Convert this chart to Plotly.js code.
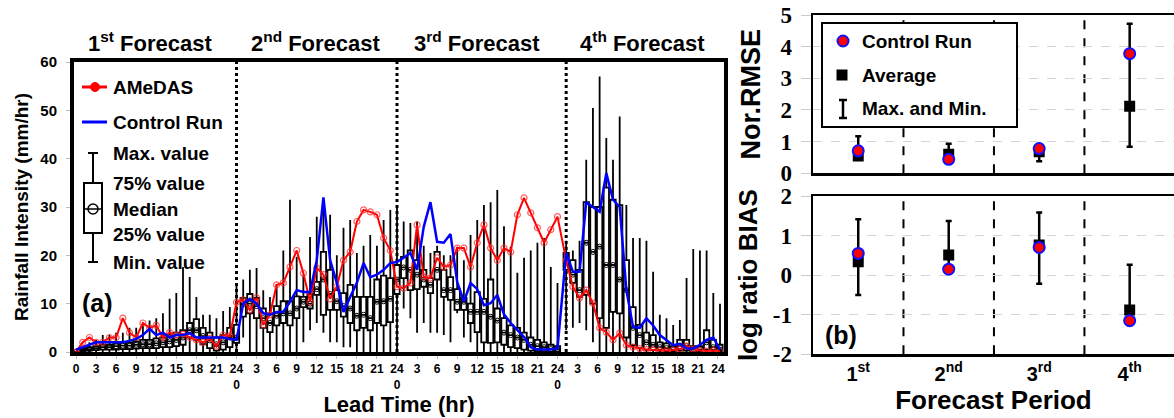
<!DOCTYPE html>
<html><head><meta charset="utf-8">
<script src="https://cdn.plot.ly/plotly-3.0.1.min.js"></script>
<style>html,body{margin:0;padding:0;background:#fff}#chart{width:1174px;height:418px}</style>
</head><body><div id="chart"></div>
<script>
// ---------------- DATA ----------------
// x-axis slot where each forecast period's values start, and number of hourly values per period
const periodFirstSlot = [0, 25, 49, 73.3];
const periodCount = [25, 24, 24, 24];
const periodBoundary = [24, 48, 73.3];           // dotted separators between periods
const periodTitles = ["1<sup>st</sup> Forecast", "2<sup>nd</sup> Forecast", "3<sup>rd</sup> Forecast", "4<sup>th</sup> Forecast"];

const tickHours = [0,3,6,9,12,15,18,21,24,27,30,33,36,39,42,45,48,51,54,57,60,63,66,69,72,75,78,81,84,87,90,93,96];
const tickLabels = ["0","3","6","9","12","15","18","21","24<br>0","3","6","9","12","15","18","21","24<br>0",
                    "3","6","9","12","15","18","21","24<br>0","3","6","9","12","15","18","21","24"];
const rmseTicks = [0, 1, 2, 3, 4, 5];
const biasTicks = [-2, -1, 0, 1, 2];

// AMeDAS observed rainfall (mm/hr)
const amedas = [
  0,2,3,2,2,3,3,7,4,3,6,5,5.5,3,4,3.5,3.7,3,2.5,2,2.8,1.2,3.5,3.3,10.3,
  10.8,8.7,11.2,5.6,7.7,13.9,14.3,17.6,21,16.3,10.4,17.4,16,11,13.5,19,20.7,27,29.4,29,28.4,23.6,21,13.5,
  13.2,14.3,26.3,15.5,15.3,19.5,17.6,18,21.5,21.5,17.6,22.6,26.3,21.5,19,21.5,20.7,28.4,31.9,28.8,25.7,22.6,25.3,28,
  19,13.5,11.2,12.8,10.1,5,4.1,2.5,3.9,1.4,1,0.7,0.5,0.4,0.3,0.3,0.4,0.6,1.2,0.6,0.3,0.2,0.3,0.1];
// Control run (mm/hr)
const controlRun = [
  0.5,1,1.5,2,2,2,2,2,2.3,2.7,3.5,4.8,3.5,4,3,3.5,3.5,3.9,3,3,3,3,3,2.7,2.5,
  10,11,10,8,7.7,8.3,8.3,10.4,12.8,12.4,12.4,19,32,19,14.3,8.3,11.4,14.3,18.4,15.5,16,17,18.4,18.6,
  19.5,20.5,17,25.9,31,22.8,22.6,24.4,14.5,10.4,14.3,13,9.7,10.1,11.8,7.8,6,4.5,3.1,1,0.5,0.5,0.5,0.8,
  20.5,16.6,16.6,31,30,29,37,31.5,30,12.8,5.2,5,7,5.5,3.5,2.5,1.4,1.7,0.7,0.7,1.5,2.5,3,0.5];
// Ensemble box statistics (mm/hr)
const ensMax = [
  0,1,2,2.5,3.5,3.5,4,4,5,5,6,6.5,7,8,11,12.2,17.6,15.5,11.4,7.7,7.7,7,8.5,9.3,14.3,
  15,17,17.4,12.8,11.4,14,21,31.5,19.7,16,23.8,28,30,28.4,20,25.7,27.3,20.5,22,24.2,22,27.3,29.4,30,
  27,26.7,27,22,20.5,22,20,20,21.8,19,24.2,27.3,30.4,31,33.5,26,21.8,16.4,19.5,21,22.6,23.6,17.6,14.3,
  23,21,23,39.8,50.5,57,44.3,39.8,48.7,30.4,23.6,23.6,23,16.6,7.7,7,5.6,6.6,15.3,21.3,21,21,12.2,10];
const ensQ3 = [
  0,0.8,1,1.2,1.5,1.5,1.8,2,2,2.2,2.5,2.5,2.8,3,3.5,4,4.5,6,6.8,5,4,3,3.5,5,5.6,
  11.2,12,11.2,9,8,9.5,10.5,10.5,11.5,11.4,12,14.5,20.7,17,12.8,12.2,13.9,11.4,11.4,11.4,15,15.8,15.3,18,
  19.7,21,19,17,15.3,20.7,17,15.5,13,11.2,10,12.4,11,15,9,7,5.5,5,4,3,2.5,2,1.5,1.2,
  20.5,19,17,31,30,30,34,31.5,30.4,19,9.3,5.6,4,3.5,2,1.8,1.2,2.5,2.5,1.2,1.2,4.5,2.5,1.5];
const ensMedian = [
  0,0.5,0.6,0.8,1,1,1.2,1.3,1.3,1.5,1.6,1.6,1.8,2,2.2,2.5,3,4.5,4.5,3.3,2.4,1.6,2,3,3,
  9.9,10,9.5,7,6,7.5,8,8,9,10.4,10,13,15,12,10.5,9.5,9,7.5,7.7,7,10.4,10.5,11,15,
  17.5,17,16,15,13.9,17,12.8,12.8,10.4,10.4,8.3,8.3,8.3,7.3,6.5,4,3.5,3,2.5,1.5,1.2,1,0.6,0.5,
  18.5,16,12.8,22.6,20.7,21.8,18,18,15,12.8,5,3.5,2,1.5,1,0.8,0.5,1.2,1.2,0.5,0.5,2,1,0.5];
const ensQ1 = [
  0,0.2,0.3,0.4,0.5,0.5,0.5,0.6,0.6,0.7,0.8,0.8,0.8,1,1,1.2,1.5,3,2.5,1.6,0.8,0.3,0.5,1,1.9,
  7.3,8,7,5,4.1,5.5,6,5.5,7,9.3,9,11.8,7.7,8.7,8.7,7.3,6,4.5,5,4.5,6,5.5,6.2,12,
  15.3,12.8,13,13.5,12.2,15,11.4,10.8,8.7,8.7,6,4.1,2,1.9,2,1.5,1,0.8,0.5,0.3,0.2,0.1,0,0,
  17,14.3,11.4,11.8,10,7,5,8.3,8,3,1.4,0.8,0.5,0.4,0.3,0.2,0.1,0.3,0.3,0,0,0.5,0.3,0.1];
const ensMin = [
  0,0,0,0,0,0,0,0,0,0,0,0,0,0,0,0,0,0,0,0,0,0,0,0,0,
  3,0,0,0,0,0,0,0,0,2,4.5,6,4,2,2,1,1,0,0,0,0,0,0,0,
  9,7,4,6,4,4,3.5,2,8,3,2,0,0,0,0,0,0,0,0,0,0,0,0,0,
  4.5,5,6,4.5,2,0,0,0,0,0,0,0,0,0,0,0,0,0,0,0,0,0,0,0];

// Panel (b)
const periodLabels = ["1<sup>st</sup>", "2<sup>nd</sup>", "3<sup>rd</sup>", "4<sup>th</sup>"];
const rmseControl = [0.71, 0.44, 0.78, 3.78];
const rmseAverage = [0.55, 0.60, 0.68, 2.12];
const rmseMax = [1.17, 0.93, 0.88, 4.72];
const rmseMin = [0.50, 0.42, 0.38, 0.84];
const biasControl = [0.55, 0.15, 0.70, -1.15];
const biasAverage = [0.34, 0.51, 0.76, -0.88];
const biasMax = [1.41, 1.37, 1.58, 0.26];
const biasMin = [-0.50, 0.15, -0.22, -1.15];

// ---------------- BUILD ----------------
const xPos = [];
periodFirstSlot.forEach((s, i) => { for (let k = 0; k < periodCount[i]; k++) xPos.push(s + k); });
const catIdx = periodLabels.map((_, i) => i);

const W = 1174, H = 418;
const px = x => x / W, py = y => 1 - y / H;
const FONT = "Liberation Sans, Arial, sans-serif";
const SERIF = "Liberation Serif";

const traces = [
  {type: 'box', x: xPos, q1: ensQ1, median: ensMedian, q3: ensQ3, lowerfence: ensMin, upperfence: ensMax,
   boxpoints: false, width: 0.8, whiskerwidth: 0, fillcolor: 'white',
   line: {color: 'black', width: 1.8}, xaxis: 'x', yaxis: 'y', hoverinfo: 'skip', showlegend: false},
  {type: 'scatter', mode: 'markers', x: xPos, y: ensMedian, xaxis: 'x', yaxis: 'y',
   marker: {symbol: 'circle-open', size: 5, color: 'black', line: {width: 1}}, hoverinfo: 'skip'},
  {type: 'scatter', mode: 'lines+markers', x: xPos, y: amedas, name: 'AMeDAS', xaxis: 'x', yaxis: 'y',
   line: {color: '#ff0000', width: 2},
   marker: {symbol: 'circle-open', size: 6, color: 'rgba(255,40,40,0.75)', line: {width: 1.2}}},
  {type: 'scatter', mode: 'lines', x: xPos, y: controlRun, name: 'Control Run', xaxis: 'x', yaxis: 'y',
   line: {color: '#0000ff', width: 2.5}},
  // panel b: Nor.RMSE
  {type: 'scatter', mode: 'markers', x: catIdx, y: rmseAverage, xaxis: 'x2', yaxis: 'y2',
   marker: {symbol: 'square', size: 11, color: 'black'},
   error_y: {type: 'data', symmetric: false, array: rmseMax.map((v, i) => v - rmseAverage[i]),
             arrayminus: rmseMin.map((v, i) => rmseAverage[i] - v), color: 'black', thickness: 2.5, width: 3}},
  {type: 'scatter', mode: 'markers', x: catIdx, y: rmseControl, xaxis: 'x2', yaxis: 'y2',
   marker: {symbol: 'circle', size: 11, color: '#ff0000', line: {color: '#1010ff', width: 2}}},
  // panel b: log ratio BIAS
  {type: 'scatter', mode: 'markers', x: catIdx, y: biasAverage, xaxis: 'x3', yaxis: 'y3',
   marker: {symbol: 'square', size: 11, color: 'black'},
   error_y: {type: 'data', symmetric: false, array: biasMax.map((v, i) => v - biasAverage[i]),
             arrayminus: biasMin.map((v, i) => biasAverage[i] - v), color: 'black', thickness: 2.5, width: 3}},
  {type: 'scatter', mode: 'markers', x: catIdx, y: biasControl, xaxis: 'x3', yaxis: 'y3',
   marker: {symbol: 'circle', size: 11, color: '#ff0000', line: {color: '#1010ff', width: 2}}}
];

const shapes = [];
periodBoundary.forEach(b => shapes.push({type: 'line', xref: 'x', yref: 'paper', x0: b, x1: b, y0: py(352), y1: py(62),
  line: {color: 'black', width: 3, dash: 'dot'}, layer: 'below'}));
[0.5, 1.5, 2.5].forEach(b => {
  shapes.push({type: 'line', xref: 'x2', yref: 'paper', x0: b, x1: b, y0: py(173.3), y1: py(15), line: {color: 'black', width: 2, dash: 'dash'}, layer: 'below'});
  shapes.push({type: 'line', xref: 'x3', yref: 'paper', x0: b, x1: b, y0: py(354.3), y1: py(196), line: {color: 'black', width: 2, dash: 'dash'}, layer: 'below'});
});
// legend (a)
const pl = (x0, y0, x1, y1, color, w) => ({type: 'line', xref: 'paper', yref: 'paper', x0: px(x0), x1: px(x1), y0: py(y0), y1: py(y1), line: {color, width: w}, layer: 'above'});
shapes.push(pl(82, 87, 107, 87, '#ff0000', 3));
shapes.push({type: 'circle', xref: 'paper', yref: 'paper', x0: px(90.5), x1: px(99.5), y0: py(91.5), y1: py(82.5), fillcolor: '#ff0000', line: {color: '#ff0000', width: 1}, layer: 'above'});
shapes.push(pl(82, 122, 107, 122, '#0000ff', 3));
shapes.push(pl(93, 153, 93, 262, 'black', 2));
shapes.push(pl(88, 153, 98, 153, 'black', 2));
shapes.push(pl(88, 262, 98, 262, 'black', 2));
shapes.push({type: 'rect', xref: 'paper', yref: 'paper', x0: px(84), x1: px(102), y0: py(233), y1: py(183), fillcolor: 'white', line: {color: 'black', width: 2}, layer: 'above'});
shapes.push(pl(84, 209, 102, 209, 'black', 1.5));
shapes.push({type: 'circle', xref: 'paper', yref: 'paper', x0: px(88), x1: px(98), y0: py(214), y1: py(204), line: {color: 'black', width: 1.5}, layer: 'above'});
// legend (b)
shapes.push({type: 'rect', xref: 'paper', yref: 'paper', x0: px(822), x1: px(1017), y0: py(127), y1: py(23), fillcolor: 'white', line: {color: 'black', width: 2}, layer: 'above'});
shapes.push({type: 'circle', xref: 'paper', yref: 'paper', x0: px(837.5), x1: px(848.5), y0: py(46.5), y1: py(35.5), fillcolor: '#ff0000', line: {color: '#1010ff', width: 2}, layer: 'above'});
shapes.push({type: 'rect', xref: 'paper', yref: 'paper', x0: px(836.5), x1: px(847.5), y0: py(80.5), y1: py(69.5), fillcolor: 'black', line: {color: 'black', width: 0}, layer: 'above'});
shapes.push(pl(843, 100, 843, 118, 'black', 2.5));
shapes.push(pl(839, 100, 847, 100, 'black', 2.5));
shapes.push(pl(839, 118, 847, 118, 'black', 2.5));

const ann = (x, y, text, size, xanchor) => ({xref: 'paper', yref: 'paper', x: px(x), y: py(y), text, showarrow: false,
  xanchor: xanchor || 'left', yanchor: 'middle', font: {family: FONT, size, color: 'black', weight: 'bold'}});
const annotations = [
  ann(111, 87, 'AMeDAS', 19), ann(111, 122, 'Control Run', 19), ann(111, 153, 'Max. value', 19),
  ann(111, 183, '75% value', 19), ann(111, 209, 'Median', 19), ann(111, 234, '25% value', 19), ann(111, 262, 'Min. value', 19),
  ann(80, 303, '(a)', 25), ann(823, 335, '(b)', 25),
  ann(860, 41, 'Control Run', 19), ann(860, 75, 'Average', 19), ann(860, 109, 'Max. and Min.', 19)
];
const titleCenters = [150, 316, 477, 642];
periodTitles.forEach((t, i) => annotations.push(ann(titleCenters[i], 42, t, 22, 'center')));

const bold = (size, fam) => ({family: fam || FONT, size, color: 'black', weight: 'bold'});
const layout = {
  width: W, height: H, margin: {l: 0, r: 0, t: 0, b: 0}, paper_bgcolor: 'white', plot_bgcolor: 'white',
  showlegend: false, font: {family: FONT, color: 'black'},
  xaxis: {domain: [px(74), px(724)], range: [-0.3, 96.9], tickmode: 'array', tickvals: tickHours, ticktext: tickLabels,
    tickfont: bold(12), ticks: 'outside', ticklen: 3, tickcolor: '#bbb', showgrid: false, zeroline: false,
    showline: true, mirror: true, linecolor: 'black', linewidth: 4, anchor: 'y',
    title: {text: 'Lead Time (hr)', font: bold(22), standoff: 2}},
  yaxis: {domain: [py(352), py(62)], range: [0, 60], dtick: 10, tickfont: bold(15), ticks: 'outside', ticklen: 4, tickcolor: '#bbb',
    showgrid: false, zeroline: false, showline: true, mirror: true, linecolor: 'black', linewidth: 4, anchor: 'x',
    ticklabelstandoff: 6, title: {text: 'Rainfall Intensity (mm/hr)', font: bold(19), standoff: 8}},
  xaxis2: {domain: [px(813), 1], range: [-0.5, 3.49], tickvals: catIdx, showticklabels: false, ticks: '', showgrid: false, zeroline: false,
    showline: true, mirror: true, linecolor: 'black', linewidth: 2.5, anchor: 'y2'},
  yaxis2: {domain: [py(173.3), py(15)], range: [0, 5], tickmode: 'array', tickvals: rmseTicks,
    ticktext: rmseTicks.map(v => '<b>' + v + '</b>'), tickfont: {family: SERIF, size: 23, color: 'black'},
    ticks: 'outside', ticklen: 10, tickcolor: '#ccc',
    showgrid: true, gridcolor: '#d5d5d5', griddash: 'dash', gridwidth: 1, zeroline: false, showline: true, mirror: true,
    linecolor: 'black', linewidth: 2.5, anchor: 'x2', ticklabelstandoff: 4, title: {text: 'Nor.RMSE', font: bold(27), standoff: 12}},
  xaxis3: {domain: [px(813), 1], range: [-0.5, 3.49], tickmode: 'array', tickvals: catIdx, ticktext: periodLabels, tickfont: bold(20),
    ticks: '', showgrid: false, zeroline: false, showline: true, mirror: true, linecolor: 'black', linewidth: 2.5, anchor: 'y3',
    title: {text: 'Forecast Period', font: bold(26), standoff: 2}},
  yaxis3: {domain: [py(354.3), py(196)], range: [-2, 2], tickmode: 'array', tickvals: biasTicks,
    ticktext: biasTicks.map(v => '<b>' + v + '</b>'), tickfont: {family: SERIF, size: 23, color: 'black'},
    ticks: 'outside', ticklen: 10, tickcolor: '#ccc',
    showgrid: true, gridcolor: '#d5d5d5', griddash: 'dash', gridwidth: 1, zeroline: false, showline: true, mirror: true,
    linecolor: 'black', linewidth: 2.5, anchor: 'x3', ticklabelstandoff: 4, title: {text: 'log ratio BIAS', font: bold(26), standoff: 8}},
  shapes, annotations
};
Plotly.newPlot('chart', traces, layout, {displayModeBar: false, staticPlot: true});
</script></body></html>
